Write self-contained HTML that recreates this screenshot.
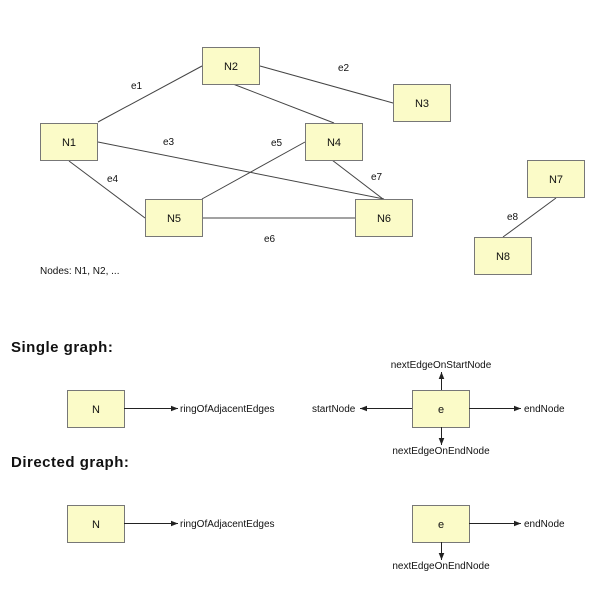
<!DOCTYPE html>
<html><head><meta charset="utf-8"><style>
html,body{margin:0;padding:0;background:#fff;width:600px;height:594px;overflow:hidden}
svg text{font-family:"Liberation Sans",sans-serif;fill:#111}
</style></head><body>
<svg width="600" height="594" viewBox="0 0 600 594" xmlns="http://www.w3.org/2000/svg">
<defs>
<marker id="a" viewBox="0 0 10 10" refX="10" refY="5" markerWidth="7" markerHeight="7" orient="auto"><path d="M0,1 L10,5 L0,9 z" fill="#222"/></marker>
</defs>
<g stroke="#444" stroke-width="1" fill="none">
<line x1="98" y1="122" x2="202" y2="66"/>
<line x1="260" y1="66" x2="393" y2="103"/>
<line x1="233" y1="84" x2="334" y2="123"/>
<line x1="98" y1="142" x2="384" y2="199"/>
<line x1="69" y1="161" x2="145" y2="218"/>
<line x1="202" y1="199" x2="305" y2="142"/>
<line x1="202" y1="218" x2="355" y2="218"/>
<line x1="332" y1="160" x2="383" y2="199"/>
<line x1="556" y1="198" x2="503" y2="237"/>
</g>
<g fill="#fbfbc8" stroke="#777" stroke-width="1">
<rect x="202.5" y="47.5" width="57" height="37"/>
<rect x="393.5" y="84.5" width="57" height="37"/>
<rect x="40.5" y="123.5" width="57" height="37"/>
<rect x="305.5" y="123.5" width="57" height="37"/>
<rect x="145.5" y="199.5" width="57" height="37"/>
<rect x="355.5" y="199.5" width="57" height="37"/>
<rect x="527.5" y="160.5" width="57" height="37"/>
<rect x="474.5" y="237.5" width="57" height="37"/>
<rect x="67.5" y="390.5" width="57" height="37"/>
<rect x="412.5" y="390.5" width="57" height="37"/>
<rect x="67.5" y="505.5" width="57" height="37"/>
<rect x="412.5" y="505.5" width="57" height="37"/>
</g>
<g font-size="11" text-anchor="middle">
<text x="231" y="70">N2</text><text x="422" y="107">N3</text>
<text x="69" y="146">N1</text><text x="334" y="146">N4</text>
<text x="174" y="222">N5</text><text x="384" y="222">N6</text>
<text x="556" y="183">N7</text><text x="503" y="260">N8</text>
<text x="96" y="413">N</text><text x="441" y="413">e</text>
<text x="96" y="528">N</text><text x="441" y="528">e</text>
</g>
<g font-size="10">
<text x="131" y="89">e1</text><text x="338" y="71">e2</text>
<text x="163" y="145">e3</text><text x="107" y="182">e4</text>
<text x="271" y="146">e5</text><text x="264" y="242">e6</text>
<text x="371" y="180">e7</text><text x="507" y="220">e8</text>
<text x="40" y="274">Nodes: N1, N2, ...</text>
<text x="180" y="412">ringOfAdjacentEdges</text>
<text x="180" y="527">ringOfAdjacentEdges</text>
<text x="524" y="412">endNode</text>
<text x="524" y="527">endNode</text>
<text x="312" y="412">startNode</text>
<text x="441" y="368" text-anchor="middle">nextEdgeOnStartNode</text>
<text x="441" y="454" text-anchor="middle">nextEdgeOnEndNode</text>
<text x="441" y="569" text-anchor="middle">nextEdgeOnEndNode</text>
</g>
<g font-size="15" font-weight="bold" letter-spacing="0.5">
<text x="11" y="352">Single graph:</text>
<text x="11" y="467">Directed graph:</text>
</g>
<g stroke="#222" stroke-width="1" marker-end="url(#a)">
<line x1="124" y1="408.5" x2="178" y2="408.5"/>
<line x1="124" y1="523.5" x2="178" y2="523.5"/>
<line x1="469" y1="408.5" x2="521" y2="408.5"/>
<line x1="469" y1="523.5" x2="521" y2="523.5"/>
<line x1="412" y1="408.5" x2="360" y2="408.5"/>
<line x1="441.5" y1="390" x2="441.5" y2="372"/>
<line x1="441.5" y1="427" x2="441.5" y2="445"/>
<line x1="441.5" y1="542" x2="441.5" y2="560"/>
</g>
</svg>
</body></html>
